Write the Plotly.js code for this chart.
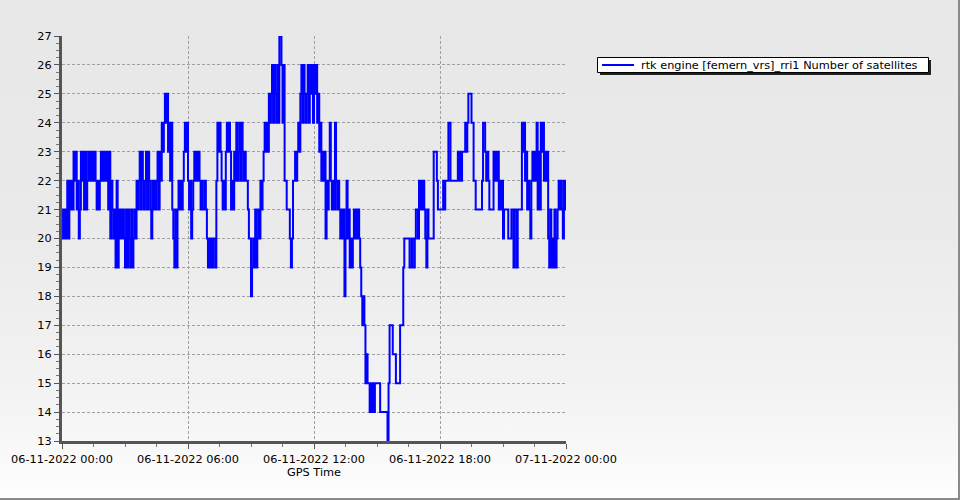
<!DOCTYPE html>
<html>
<head>
<meta charset="utf-8">
<script src="https://cdn.plot.ly/plotly-3.0.1.min.js"></script>
<style>
html,body{margin:0;padding:0;}
#chart{width:960px;height:500px;box-sizing:border-box;border-right:2px solid #8a8a8a;border-bottom:2px solid #8a8a8a;
background:linear-gradient(to bottom,#e7e7e7 0%,#eaeaea 45%,#f3f3f3 80%,#fdfdfd 100%);}
</style>
</head>
<body>
<div id="chart"></div>
<script>
// Data: number of satellites sampled every 3 minutes from 06-11-2022 00:00
const startTime = '2022-11-06T00:00:00';
const stepMinutes = 3;
const seriesName = 'rtk engine [femern_vrs]_rri1 Number of satellites';
const satellites = [
  20,21,20,21,20,22,20,22,21,22,21,23,22,23,21,22,20,21,23,22, // 00h
  23,21,23,21,22,23,22,23,22,23,22,23,22,21,22,21,22,23,22,23, // 01h
  22,23,22,23,21,23,20,22,21,20,21,19,22,19,21,20,21,20,21,20, // 02h
  19,21,19,21,20,19,21,19,20,21,20,22,21,22,23,21,23,22,21,22, // 03h
  23,21,23,22,21,20,22,21,22,21,22,23,21,23,22,24,23,24,25,24, // 04h
  25,23,24,22,24,21,20,19,21,19,21,22,21,22,21,22,23,24,23,24, // 05h
  22,21,22,20,21,22,23,22,23,22,23,22,21,22,21,21,22,21,20,19, // 06h
  20,19,20,19,20,20,19,22,24,23,24,23,22,21,22,21,23,24,23,24, // 07h
  23,21,22,21,23,22,24,22,23,24,22,24,23,22,23,22,22,21,20,20, // 08h
  18,19,20,19,21,19,20,21,20,22,21,22,23,24,23,24,23,25,24,25, // 09h
  26,24,26,25,24,26,24,27,27,26,24,26,22,22,21,21,21,20,19,20, // 10h
  22,22,23,22,23,24,23,25,26,24,26,25,24,25,26,24,26,25,26,24, // 11h
  26,25,26,24,25,23,24,22,23,22,23,20,22,21,22,24,22,21,22,21, // 12h
  24,22,21,22,21,20,21,20,21,18,20,22,20,21,19,20,19,20,21,20, // 13h
  21,20,21,20,19,18,17,18,17,15,16,15,15,14,15,14,15,14,15,15, // 14h
  15,15,15,14,14,14,14,14,14,14,13,15,17,17,17,16,16,16,15,15, // 15h
  15,15,17,17,17,19,20,20,20,20,20,19,19,20,19,19,20,21,21,20, // 16h
  22,21,22,21,22,21,20,19,21,20,20,20,20,20,23,23,23,22,21,21, // 17h
  21,21,21,22,21,22,22,22,24,24,22,22,22,22,22,22,22,23,22,23, // 18h
  22,23,23,23,24,23,24,25,25,25,24,24,22,22,21,21,21,21,21,21, // 19h
  22,24,24,23,22,23,22,21,21,21,21,23,22,23,22,23,21,22,21,22, // 20h
  20,21,21,21,21,20,20,20,21,21,19,21,21,19,21,21,21,21,24,23, // 21h
  24,22,23,21,22,21,20,22,23,22,23,22,24,21,23,21,24,23,24,22, // 22h
  23,22,23,20,19,21,19,20,19,21,19,20,21,22,21,22,21,20,22,21, // 23h
  22
];
const xStart = '2022-11-06 00:00';
const xEnd = '2022-11-07 00:00';
const yMin = 13, yMax = 27;

const t0 = new Date(startTime + 'Z').getTime();
function fmt(ms){
  const d = new Date(ms);
  const p = n => String(n).padStart(2,'0');
  return d.getUTCFullYear()+'-'+p(d.getUTCMonth()+1)+'-'+p(d.getUTCDate())+' '+p(d.getUTCHours())+':'+p(d.getUTCMinutes())+':'+p(d.getUTCSeconds());
}
const times = satellites.map((v,i)=>fmt(t0 + i*stepMinutes*60000));

// plot area geometry (pixels) used to place the legend box in paper coordinates
const W = 960, H = 500, mL = 62, mR = 394, mT = 36, mB = 59;
const pw = W - mL - mR, ph = H - mT - mB;
const px = x => (x - mL) / pw;
const py = y => (H - mB - y) / ph;

const fontFam = 'Tahoma, "DejaVu Sans", Verdana, sans-serif';
const fs = 11.3;
const trace = {
  x: times, y: satellites, type: 'scatter', mode: 'lines',
  line: {shape: 'hv', color: '#0000ff', width: 2},
  name: seriesName, showlegend: false
};
const layout = {
  width: W, height: H,
  paper_bgcolor: 'rgba(0,0,0,0)', plot_bgcolor: 'rgba(0,0,0,0)',
  margin: {l: mL, r: mR, t: mT, b: mB, pad: 0},
  font: {family: fontFam, size: fs, color: '#000'},
  showlegend: false,
  shapes: [
    // legend shadow
    {type: 'rect', xref: 'paper', yref: 'paper', x0: px(600), x1: px(931), y0: py(60), y1: py(75),
     fillcolor: '#222222', line: {width: 0}},
    // legend box
    {type: 'rect', xref: 'paper', yref: 'paper', x0: px(597.5), x1: px(928.5), y0: py(57.5), y1: py(72.5),
     fillcolor: '#ffffff', line: {color: '#000000', width: 1}},
    // legend line sample
    {type: 'line', xref: 'paper', yref: 'paper', x0: px(602), x1: px(634), y0: py(65), y1: py(65),
     line: {color: '#0000ff', width: 2}}
  ],
  annotations: [
    {xref: 'paper', yref: 'paper', x: px(639), y: py(65), xanchor: 'left', yanchor: 'middle',
     text: seriesName, showarrow: false, font: {family: fontFam, size: fs, color: '#000'}}
  ],
  xaxis: {
    type: 'date', range: [xStart, xEnd],
    tick0: xStart, dtick: 6*3600000, tickformat: '%d-%m-%Y %H:%M',
    showgrid: true, gridcolor: '#a0a0a0', griddash: '3px,2px', gridwidth: 1,
    showline: true, linecolor: '#555555', linewidth: 3,
    ticks: 'outside', ticklen: 5, tickcolor: '#555555', tickwidth: 1,
    minor: {dtick: 1.5*3600000, ticks: 'outside', ticklen: 3, tickcolor: '#777777', showgrid: false},
    title: {text: 'GPS Time', font: {family: fontFam, size: fs, color: '#000'}, standoff: 3},
    zeroline: false, fixedrange: true
  },
  yaxis: {
    range: [yMin, yMax], dtick: 1, tick0: 13,
    showgrid: true, gridcolor: '#a0a0a0', griddash: '3px,2px', gridwidth: 1,
    showline: true, linecolor: '#555555', linewidth: 3,
    ticks: 'outside', ticklen: 5, tickcolor: '#555555', tickwidth: 1,
    minor: {dtick: 0.25, ticks: 'outside', ticklen: 3, tickcolor: '#777777', showgrid: false},
    zeroline: false, fixedrange: true
  }
};
Plotly.newPlot('chart', [trace], layout, {displayModeBar: false, staticPlot: true});
</script>
</body>
</html>
